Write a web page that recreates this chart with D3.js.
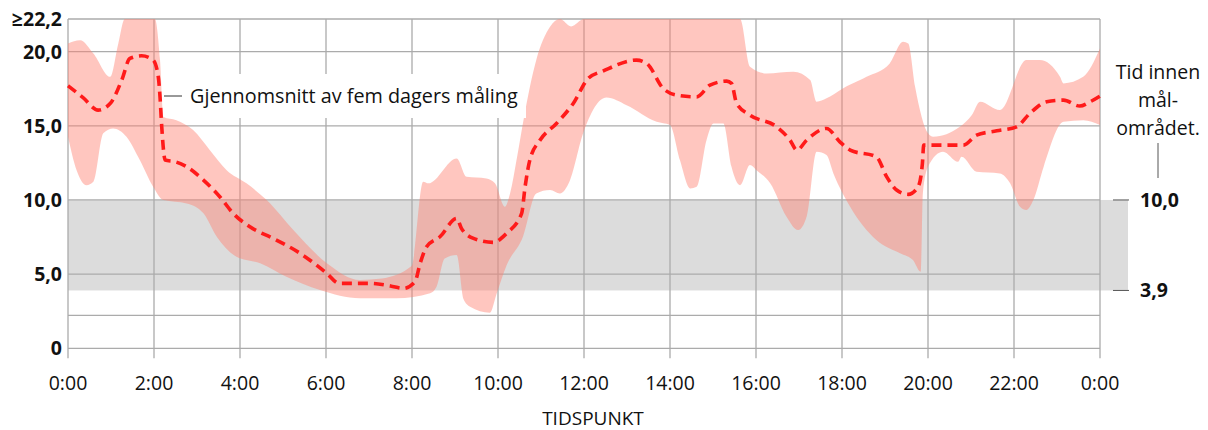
<!DOCTYPE html>
<html>
<head>
<meta charset="utf-8">
<script src="https://cdn.jsdelivr.net/npm/d3@7"></script>
<style>
  body { margin: 0; background: #fff; }
  svg { font-family: "Open Sans", sans-serif; }
</style>
</head>
<body>
<div id="chart"></div>
<script>
// mean of five days [hour, mmol/L]
var meanLine = [
  [0, 17.7], [0.35, 16.9], [0.7, 16.06], [0.98, 16.5], [1.25, 18.08], [1.44, 19.54], [1.71, 19.72],
  [1.98, 19.43], [2.1, 18.3], [2.14, 16.95], [2.18, 14.93], [2.26, 12.69], [2.49, 12.58], [2.76, 12.24],
  [3.15, 11.34], [3.53, 10.22], [3.84, 9.1], [4.23, 8.19], [4.77, 7.41], [5.4, 6.4], [6.02, 5.05],
  [6.3, 4.38], [7.02, 4.38], [7.5, 4.2], [7.8, 4.04], [8.07, 4.49], [8.19, 5.73], [8.34, 6.85],
  [8.65, 7.52], [9.04, 8.76], [9.15, 8.09], [9.43, 7.41], [9.89, 7.14], [10.2, 7.75], [10.55, 9.1],
  [10.63, 10.89], [10.74, 12.69], [10.98, 14.04], [11.36, 15.16], [11.75, 16.51], [12.1, 18.2],
  [12.45, 18.7], [13.22, 19.43], [13.46, 19.2], [13.84, 17.52], [14.15, 17.07], [14.62, 16.95],
  [14.93, 17.74], [15.32, 18.01], [15.43, 17.86], [15.55, 16.51], [15.86, 15.72], [16.48, 14.93],
  [16.79, 14.04], [16.95, 13.36], [17.18, 14.04], [17.64, 14.82], [17.95, 13.92], [18.19, 13.36],
  [18.8, 12.91], [19.04, 11.56], [19.27, 10.67], [19.54, 10.38], [19.77, 10.89], [19.87, 12.47],
  [19.9, 13.7], [20.82, 13.7], [21.13, 14.37], [21.6, 14.66], [22.06, 14.93], [22.37, 15.84],
  [22.76, 16.62], [23.15, 16.73], [23.53, 16.33], [23.77, 16.62], [24, 17.0]
];

// highest measured value of the five days
var bandUpper = [
  [0, 20.55], [0.28, 20.77], [0.59, 19.88], [0.98, 18.3], [1.17, 20.55], [1.32, 22.2], [2.02, 22.2],
  [2.14, 19.43], [2.22, 15.6], [2.52, 15.38], [2.91, 14.71], [3.3, 13.36], [3.69, 12.01], [4.15, 11.12],
  [4.62, 9.99], [5.24, 7.97], [6.02, 5.73], [6.79, 4.6], [7.3, 4.7], [7.99, 5.54], [8.26, 11.23],
  [8.38, 11.12], [9.04, 12.8], [9.27, 11.56], [9.73, 11.45], [9.93, 11.12], [10.16, 9.54], [10.28, 10.44],
  [10.45, 13.0], [10.6, 15.5], [10.89, 19.43], [11.21, 21.67], [11.44, 22.2], [11.7, 21.7], [12.0, 22.2],
  [15.63, 22.2], [15.86, 18.98], [16.25, 18.53], [16.87, 18.64], [17.26, 18.08], [17.41, 16.62],
  [17.64, 16.85], [18.02, 17.52], [18.42, 18.08], [18.57, 18.3], [19.11, 19.2], [19.42, 20.66],
  [19.54, 20.55], [19.7, 17.63], [20.0, 14.49], [20.12, 14.26], [20.74, 14.93], [21.02, 15.72],
  [21.21, 16.62], [21.67, 16.06], [22.29, 19.43], [22.6, 19.43], [23.07, 18.3], [23.15, 17.86],
  [23.61, 18.3], [24, 20.21]
];

// lowest measured value of the five days
var bandLower = [
  [0, 14.26], [0.2, 12.01], [0.43, 11.0], [0.59, 11.23], [0.82, 14.49], [1.05, 14.82], [1.36, 14.26],
  [1.67, 12.69], [1.98, 10.89], [2.22, 9.99], [2.76, 9.77], [3.15, 9.1], [3.46, 7.52], [3.92, 6.17],
  [4.47, 5.73], [5.08, 4.82], [5.86, 3.93], [6.79, 3.37], [7.64, 3.37], [8.42, 3.71], [8.57, 4.15],
  [8.76, 6.06], [9.04, 6.29], [9.2, 3.3], [9.35, 2.8], [9.81, 2.4], [9.97, 3.7], [10.2, 5.6],
  [10.58, 7.52], [10.89, 10.44], [11.21, 10.67], [11.44, 10.44], [11.67, 11.3], [11.98, 14.5],
  [12.52, 16.9], [12.99, 16.39], [13.69, 15.27], [14.0, 15.05], [14.23, 12.69], [14.47, 10.78],
  [14.62, 10.89], [14.85, 14.04], [15.01, 15.16], [15.24, 15.16], [15.43, 12.24], [15.63, 11.0],
  [15.86, 12.35], [16.01, 12.01], [16.33, 11.12], [16.71, 8.87], [16.98, 7.97], [17.18, 8.9],
  [17.41, 13.25], [17.64, 13.03], [17.8, 11.79], [18.19, 9.54], [18.8, 7.3], [19.35, 6.4],
  [19.65, 5.95], [19.83, 5.16], [19.88, 10.44], [20.0, 12.24], [20.35, 13.25], [20.7, 12.57],
  [20.78, 12.91], [21.13, 11.9], [21.67, 11.79], [21.91, 11.12], [22.14, 9.54], [22.29, 9.32],
  [22.45, 9.99], [22.69, 12.24], [23.15, 15.27], [23.61, 15.38], [24, 15.05]
];

var xTicks = [0, 2, 4, 6, 8, 10, 12, 14, 16, 18, 20, 22, 24];
var xTickLabels = ["0:00", "2:00", "4:00", "6:00", "8:00", "10:00", "12:00", "14:00", "16:00", "18:00", "20:00", "22:00", "0:00"];
var yTicks = [0, 5, 10, 15, 20, 22.2];
var yTickLabels = ["0", "5,0", "10,0", "15,0", "20,0", "≥22,2"];
var yGrid = [0, 2.22, 5, 10, 15, 20, 22.2];
var targetRange = [3.9, 10.0];
var targetLabels = ["3,9", "10,0"];

var w = 1208, h = 430;
var plotLeft = 68, plotRight = 1100, plotTop = 19, plotBottom = 348.3;

var xScale = d3.scaleLinear().domain([0, 24]).range([plotLeft, plotRight]);
var yScale = d3.scaleLinear().domain([0, 22.2]).range([plotBottom, plotTop]);

var svg = d3.select("#chart").append("svg")
  .attr("width", w)
  .attr("height", h);

// target range (grey)
svg.append("rect")
  .attr("x", xScale(0))
  .attr("y", yScale(targetRange[1]))
  .attr("width", plotRight + 28 - plotLeft)
  .attr("height", yScale(targetRange[0]) - yScale(targetRange[1]))
  .attr("fill", "#dcdcdc");

// grid
var grid = svg.append("g").attr("stroke", "#ababab").attr("stroke-width", 1.3);
grid.selectAll("line.h").data(yGrid).join("line")
  .attr("class", "h")
  .attr("x1", plotLeft).attr("x2", plotRight)
  .attr("y1", function(d) { return yScale(d); })
  .attr("y2", function(d) { return yScale(d); });
grid.selectAll("line.v").data(xTicks).join("line")
  .attr("class", "v")
  .attr("x1", function(d) { return xScale(d); })
  .attr("x2", function(d) { return xScale(d); })
  .attr("y1", plotTop).attr("y2", plotBottom + 10);

// min-max band
var line = d3.line()
  .x(function(d) { return xScale(d[0]); })
  .y(function(d) { return yScale(d[1]); })
  .curve(d3.curveMonotoneX);

var upperD = line(bandUpper);
var lowerD = line(bandLower.slice().reverse());
svg.append("path")
  .attr("d", upperD + "L" + lowerD.substring(1) + "Z")
  .attr("fill", "#ff8070")
  .attr("fill-opacity", 0.45);

// mean line
svg.append("path")
  .attr("d", line(meanLine))
  .attr("fill", "none")
  .attr("stroke", "#ff1a1a")
  .attr("stroke-width", 3.6)
  .attr("stroke-dasharray", "10,6");

// annotation
svg.append("rect")
  .attr("x", 184).attr("y", 74)
  .attr("width", 342).attr("height", 44)
  .attr("fill", "#fff");
svg.append("line")
  .attr("x1", 164).attr("x2", 182)
  .attr("y1", 96).attr("y2", 96)
  .attr("stroke", "#333").attr("stroke-width", 1);
svg.append("text")
  .attr("x", 190).attr("y", 103)
  .attr("font-size", 19.8)
  .attr("fill", "#111")
  .text("Gjennomsnitt av fem dagers måling");

// y labels
svg.selectAll("text.ylab").data(yTicks).join("text")
  .attr("class", "ylab")
  .attr("x", 62)
  .attr("y", function(d) { return yScale(d) + 7; })
  .attr("text-anchor", "end")
  .attr("font-size", 19.5)
  .attr("font-weight", "bold")
  .attr("fill", "#111")
  .text(function(d, i) { return yTickLabels[i]; });

// x labels
svg.selectAll("text.xlab").data(xTicks).join("text")
  .attr("class", "xlab")
  .attr("x", function(d) { return xScale(d); })
  .attr("y", 390)
  .attr("text-anchor", "middle")
  .attr("font-size", 19.5)
  .attr("fill", "#111")
  .text(function(d, i) { return xTickLabels[i]; });

svg.append("text")
  .attr("x", 593).attr("y", 425)
  .attr("text-anchor", "middle")
  .attr("font-size", 19)
  .attr("fill", "#111")
  .text("TIDSPUNKT");

// right side: target range labels
svg.selectAll("line.tr").data(targetRange).join("line")
  .attr("class", "tr")
  .attr("x1", 1113).attr("x2", 1129)
  .attr("y1", function(d) { return yScale(d); })
  .attr("y2", function(d) { return yScale(d); })
  .attr("stroke", "#555").attr("stroke-width", 1);
svg.selectAll("text.tr").data(targetRange).join("text")
  .attr("class", "tr")
  .attr("x", 1140)
  .attr("y", function(d) { return yScale(d) + 7; })
  .attr("font-size", 19.5)
  .attr("font-weight", "bold")
  .attr("fill", "#111")
  .text(function(d, i) { return targetLabels[i]; });

svg.append("line")
  .attr("x1", 1158).attr("x2", 1158)
  .attr("y1", 143).attr("y2", 178)
  .attr("stroke", "#555").attr("stroke-width", 1);

var note = svg.append("text")
  .attr("text-anchor", "middle")
  .attr("font-size", 19.5)
  .attr("fill", "#111");
["Tid innen", "mål-", "området."].forEach(function(t, i) {
  note.append("tspan").attr("x", 1158).attr("y", 79 + i * 28).text(t);
});
</script>
</body>
</html>
